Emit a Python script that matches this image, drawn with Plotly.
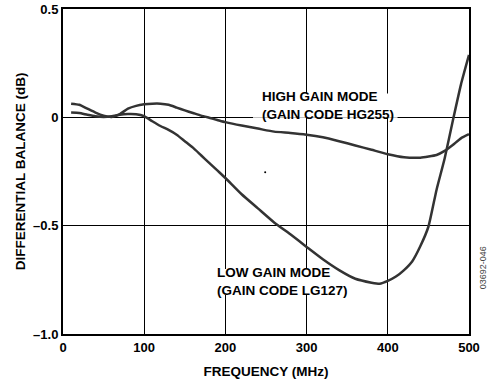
import plotly.graph_objects as go

# frequency (MHz) and differential balance (dB)
freq_hg = [10, 20, 30, 40, 50, 60, 70, 80, 90, 100, 110, 120, 130, 140, 150, 160, 170, 180, 190, 200,
           220, 240, 260, 280, 300, 320, 340, 360, 380, 400, 420, 440, 460, 470, 480, 490, 500]
bal_hg = [0.063, 0.058, 0.04, 0.022, 0.008, 0.002, 0.015, 0.04, 0.053, 0.06, 0.063, 0.063, 0.058, 0.045,
          0.032, 0.02, 0.008, -0.002, -0.012, -0.022, -0.038, -0.052, -0.066, -0.072, -0.08, -0.092,
          -0.11, -0.13, -0.15, -0.17, -0.184, -0.186, -0.174, -0.155, -0.128, -0.097, -0.078]

freq_lg = [10, 20, 30, 40, 50, 60, 70, 80, 90, 100, 110, 120, 130, 140, 150, 160, 170, 180, 190, 200,
           220, 240, 260, 280, 300, 320, 340, 360, 380, 390, 400, 410, 420, 430, 440, 450, 460, 470,
           480, 490, 500]
bal_lg = [0.022, 0.02, 0.012, 0.005, 0.002, 0.005, 0.012, 0.015, 0.014, 0.005, -0.018, -0.04, -0.058,
          -0.08, -0.11, -0.14, -0.175, -0.21, -0.245, -0.28, -0.355, -0.42, -0.485, -0.54, -0.598,
          -0.655, -0.705, -0.745, -0.763, -0.768, -0.755, -0.735, -0.705, -0.665, -0.595, -0.505,
          -0.335, -0.19, -0.017, 0.15, 0.288]

x_ticks = [0, 100, 200, 300, 400, 500]
y_ticks = [0.5, 0, -0.5, -1.0]
y_tick_text = ["0.5", "0", "\u20130.5", "\u20131.0"]

font = dict(family="Liberation Sans, Arial", size=13, color="black", weight="bold")
title_font = dict(font, size=13.5)
lab_font = dict(font, size=13.5)
line_col = "#333333"

fig = go.Figure()
fig.add_trace(go.Scatter(x=freq_hg, y=bal_hg, mode="lines",
                         line=dict(color=line_col, width=2.5, shape="spline", smoothing=0.5)))
fig.add_trace(go.Scatter(x=freq_lg, y=bal_lg, mode="lines",
                         line=dict(color=line_col, width=2.5, shape="spline", smoothing=0.5)))
# stray speck in the original
fig.add_trace(go.Scatter(x=[249], y=[-0.254], mode="markers",
                         marker=dict(color="black", size=2)))

# white patches behind the labels: hide the grid but stay under the curves
fig.add_shape(type="rect", xref="x", yref="y", x0=234, x1=412, y0=0.11, y1=-0.002,
              fillcolor="white", line_width=0, layer="between")
fig.add_shape(type="rect", xref="x", yref="y", x0=183, x1=350, y0=-0.7, y1=-0.82,
              fillcolor="white", line_width=0, layer="between")

fig.add_annotation(x=242, y=0.055, xref="x", yref="y", xanchor="left", yanchor="middle",
                   text="HIGH GAIN MODE<br>(GAIN CODE HG255)", showarrow=False, align="left",
                   font=lab_font)
fig.add_annotation(x=187, y=-0.757, xref="x", yref="y", xanchor="left", yanchor="middle",
                   text="LOW GAIN MODE<br>(GAIN CODE LG127)", showarrow=False, align="left",
                   font=lab_font)
fig.add_annotation(x=1.052, y=0.13, xref="paper", yref="paper", text="03692-046",
                   textangle=-90, showarrow=False,
                   font=dict(family="Liberation Sans, Arial", size=9, color="#444444"))

fig.update_xaxes(range=[0, 500], tickvals=x_ticks, showgrid=True, gridcolor="black", gridwidth=1,
                 zeroline=False, showline=True, linecolor="black", linewidth=2, mirror=True,
                 ticks="", tickfont=font,
                 title=dict(text="FREQUENCY (MHz)", font=title_font, standoff=13))
fig.update_yaxes(range=[-1.0, 0.5], tickvals=y_ticks, ticktext=y_tick_text, showgrid=True,
                 gridcolor="black", gridwidth=1, zeroline=False, showline=True, linecolor="black",
                 linewidth=2, mirror=True, ticks="", tickfont=font,
                 title=dict(text="DIFFERENTIAL BALANCE (dB)", font=title_font, standoff=4))

fig.update_layout(
    width=500, height=383,
    margin=dict(l=63, r=31, t=9, b=49, autoexpand=False),
    paper_bgcolor="white", plot_bgcolor="white",
    showlegend=False,
)

# drop the page's default body margin so the figure sits at the window corner
fig.write_html("out.html", config={"displayModeBar": False},
               post_script="document.body.style.margin='0';")
